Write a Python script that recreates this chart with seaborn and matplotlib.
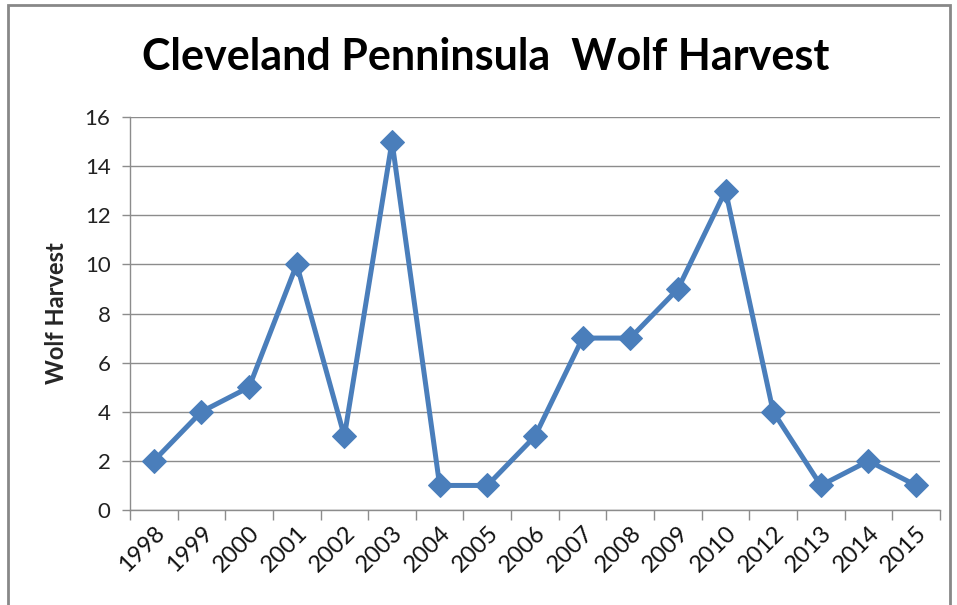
import numpy as np
import pandas as pd
import matplotlib
matplotlib.use('Agg')
import matplotlib.pyplot as plt
from matplotlib.patches import Rectangle
import seaborn as sns

years = ['1998', '1999', '2000', '2001', '2002', '2003', '2004', '2005', '2006',
         '2007', '2008', '2009', '2010', '2012', '2013', '2014', '2015']
harvest = [2, 4, 5, 10, 3, 15, 1, 1, 3, 7, 7, 9, 13, 4, 1, 2, 1]
y_ticks = [0, 2, 4, 6, 8, 10, 12, 14, 16]

sns.set_theme(style='white')
plt.rcParams['font.family'] = ['Lato', 'DejaVu Sans']

df = pd.DataFrame({'pos': np.arange(len(years)), 'harvest': harvest})

fig = plt.figure(figsize=(9.57, 6.05), dpi=100)
ax = fig.add_axes([0.1358, 0.157, 0.8464, 0.6496])

line_color = '#4A7EBB'
grid_color = '#8C8C8C'

sns.lineplot(data=df, x='pos', y='harvest', ax=ax, color=line_color,
             linewidth=3.6, marker='D', markersize=12, markeredgecolor=line_color)

ax.set_xlim(-0.5, len(years) - 0.5)
ax.set_ylim(0, 16)
ax.set_yticks(y_ticks)
ax.set_yticklabels([str(v) for v in y_ticks], fontsize=16, color='#222222')
ax.yaxis.grid(True, color=grid_color, linewidth=1)
ax.set_axisbelow(True)

ax.set_xticks(np.arange(len(years)))
ax.set_xticklabels(years, rotation=45, ha='right', rotation_mode='anchor',
                   fontsize=17, color='#111111')
ax.set_xticks(np.arange(-0.5, len(years)), minor=True)
ax.tick_params(axis='x', which='major', length=0, pad=9)
ax.tick_params(axis='x', which='minor', length=7, width=1, color=grid_color,
               direction='out', bottom=True)
ax.tick_params(axis='y', length=6, width=1, color=grid_color, direction='out',
               left=True, pad=8)

for side in ['top', 'right']:
    ax.spines[side].set_visible(False)
for side in ['left', 'bottom']:
    ax.spines[side].set_color(grid_color)
    ax.spines[side].set_linewidth(1)

ax.set_xlabel('')
ax.set_ylabel('Wolf Harvest', fontsize=17, fontweight='bold', labelpad=12)

fig.text(0.508, 0.905, 'Cleveland Penninsula  Wolf Harvest', ha='center',
         va='center', fontsize=31, fontweight='bold', color='black')

fig.patches.append(Rectangle((8 / 957, -0.02), 942 / 957, 1 - 5 / 605 + 0.02,
                             transform=fig.transFigure, fill=False,
                             edgecolor='#888888', linewidth=2))

fig.savefig('out.png', dpi=100)
